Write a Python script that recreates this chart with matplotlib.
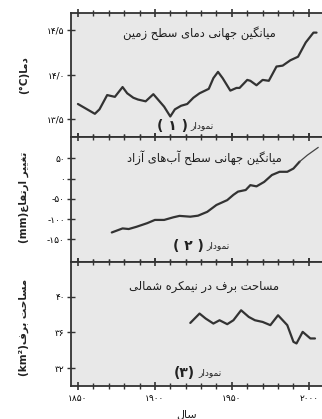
import matplotlib
matplotlib.use('Agg')
import matplotlib.pyplot as plt
from matplotlib.ticker import FixedLocator, MultipleLocator

# global mean surface temperature
temp_years = [1850, 1858, 1861, 1864, 1869, 1874, 1879, 1882, 1886, 1889, 1894, 1899,
              1901, 1906, 1910, 1913, 1917, 1921, 1925, 1929, 1935, 1938, 1941, 1944,
              1949, 1953, 1955, 1960, 1962, 1966, 1970, 1974, 1979, 1983, 1988, 1993,
              1998, 2003, 2005]
temp_vals = [13.67, 13.59, 13.56, 13.61, 13.77, 13.75, 13.86, 13.79, 13.74, 13.72, 13.70, 13.78,
             13.74, 13.64, 13.53, 13.61, 13.65, 13.67, 13.74, 13.79, 13.84, 13.96, 14.03, 13.96,
             13.82, 13.85, 13.85, 13.94, 13.93, 13.88, 13.94, 13.93, 14.09, 14.10, 14.16, 14.20,
             14.36, 14.47, 14.47]

# global mean sea level (tide gauges, then satellite)
sea_years = [1872, 1879, 1883, 1888, 1895, 1900, 1906, 1912, 1916, 1923, 1928, 1934,
             1940, 1947, 1951, 1954, 1959, 1962, 1966, 1971, 1976, 1981, 1986, 1990, 1994]
sea_vals = [-133, -123, -124.5, -119, -110, -102, -102, -95.5, -92, -94, -91.5, -82,
            -65, -53, -40, -32, -28, -16, -19, -8, 9, 17, 17, 25, 42]
sat_years = [1994, 1999, 2006]
sat_vals = [42, 58, 77]

# northern hemisphere snow cover
snow_years = [1923, 1929, 1933, 1938, 1942, 1947, 1951, 1956, 1961, 1965, 1970, 1975,
              1980, 1986, 1990, 1992, 1996, 2001, 2004]
snow_vals = [37.07, 38.12, 37.56, 37.0, 37.37, 36.93, 37.37, 38.49, 37.74, 37.37, 37.18, 36.82,
             37.93, 36.82, 34.95, 34.77, 36.07, 35.33, 35.33]

year_ticks = [1850, 1900, 1950, 2000]
temp_ticks = [13.5, 14.0, 14.5]
sea_ticks = [-150, -100, -50, 0, 50]
snow_ticks = [32, 36, 40]

temp_labels = ['13/5', '14/0', '14/5']
sea_labels = ['-150', '-100', '-50', '0', '50']
snow_labels = ['32', '36', '40']

titles = ['میانگین جهانی دمای سطح زمین',
          'میانگین جهانی سطح آب‌های آزاد',
          'مساحت برف در نیمکره شمالی']
ylabels = [('دما', '(°C)'), ('تغییر ارتفاع', '(mm)'), ('مساحت برف', '(km²)')]
panel_nums = ['( ۱ )', '( ۲ )', '(۳)']

# arabic letters -> (isolated, final, initial, medial)
FORMS = {
    'ا': ('\uFE8D', '\uFE8E', '\uFE8D', '\uFE8E'),
    'آ': ('\uFE81', '\uFE82', '\uFE81', '\uFE82'),
    'ب': ('\uFE8F', '\uFE90', '\uFE91', '\uFE92'),
    'ت': ('\uFE95', '\uFE96', '\uFE97', '\uFE98'),
    'ج': ('\uFE9D', '\uFE9E', '\uFE9F', '\uFEA0'),
    'ح': ('\uFEA1', '\uFEA2', '\uFEA3', '\uFEA4'),
    'د': ('\uFEA9', '\uFEAA', '\uFEA9', '\uFEAA'),
    'ر': ('\uFEAD', '\uFEAE', '\uFEAD', '\uFEAE'),
    'ز': ('\uFEAF', '\uFEB0', '\uFEAF', '\uFEB0'),
    'س': ('\uFEB1', '\uFEB2', '\uFEB3', '\uFEB4'),
    'ش': ('\uFEB5', '\uFEB6', '\uFEB7', '\uFEB8'),
    'ط': ('\uFEC1', '\uFEC2', '\uFEC3', '\uFEC4'),
    'ع': ('\uFEC9', '\uFECA', '\uFECB', '\uFECC'),
    'غ': ('\uFECD', '\uFECE', '\uFECF', '\uFED0'),
    'ف': ('\uFED1', '\uFED2', '\uFED3', '\uFED4'),
    'ل': ('\uFEDD', '\uFEDE', '\uFEDF', '\uFEE0'),
    'م': ('\uFEE1', '\uFEE2', '\uFEE3', '\uFEE4'),
    'ن': ('\uFEE5', '\uFEE6', '\uFEE7', '\uFEE8'),
    'ه': ('\uFEE9', '\uFEEA', '\uFEEB', '\uFEEC'),
    'و': ('\uFEED', '\uFEEE', '\uFEED', '\uFEEE'),
    'ی': ('\uFBFC', '\uFBFD', '\uFBFE', '\uFBFF'),
    'ک': ('\uFB8E', '\uFB8F', '\uFB90', '\uFB91'),
    'گ': ('\uFB92', '\uFB93', '\uFB94', '\uFB95'),
}
NON_JOIN = set('اآدذرزژو')


def fa(text):
    # shape persian letters and put them in visual order
    out = []
    for i, ch in enumerate(text):
        if ch not in FORMS:
            if ch != '\u200c':
                out.append(ch)
            continue
        prev = text[i - 1] if i > 0 else ''
        nxt = text[i + 1] if i + 1 < len(text) else ''
        jp = prev in FORMS and prev not in NON_JOIN
        jn = ch not in NON_JOIN and nxt in FORMS
        iso, fin, ini, med = FORMS[ch]
        if jp and jn:
            out.append(med)
        elif jp:
            out.append(fin)
        elif jn:
            out.append(ini)
        else:
            out.append(iso)
    return ''.join(reversed(out))


def fa_num(s):
    return s.translate(str.maketrans('0123456789', '۰۱۲۳۴۵۶۷۸۹'))


plt.rcParams['font.family'] = ['DejaVu Sans']

fig = plt.figure(figsize=(3.22, 4.19), dpi=100)
W, H = 322.0, 419.0
left = 71 / W
width = (335 - 71) / W
edges = [13, 137, 262, 386]

axes = []
for k in range(3):
    bottom = 1 - edges[k + 1] / H
    height = (edges[k + 1] - edges[k]) / H
    ax = fig.add_axes([left, bottom, width, height])
    ax.set_facecolor('#e8e8e8')
    for side in ['left', 'top', 'bottom']:
        ax.spines[side].set_linewidth(1.3)
        ax.spines[side].set_color('#333333')
    ax.spines['right'].set_visible(False)
    ax.set_xlim(1845.5, 2017)
    ax.xaxis.set_major_locator(FixedLocator(year_ticks))
    ax.xaxis.set_minor_locator(MultipleLocator(10))
    ax.tick_params(axis='x', which='major', direction='inout', top=True, length=6,
                   width=1.2, color='#333333')
    ax.tick_params(axis='x', which='minor', direction='inout', top=True, length=4,
                   width=1.0, color='#333333')
    ax.tick_params(axis='y', direction='inout', length=6, width=1.0, color='#333333',
                   labelsize=6.5, pad=1.5)
    axes.append(ax)

line_kw = dict(color='#333333', lw=1.6, solid_capstyle='round', solid_joinstyle='round')

axes[0].plot(temp_years, temp_vals, **line_kw)
axes[0].set_ylim(13.30, 14.69)
axes[0].set_yticks(temp_ticks)
axes[0].set_yticklabels([fa_num(s) for s in temp_labels])

axes[1].plot(sea_years, sea_vals, **line_kw)
axes[1].plot(sat_years, sat_vals, color='#444444', lw=0.9)
axes[1].set_ylim(-206, 103)
axes[1].set_yticks(sea_ticks)
axes[1].set_yticklabels([fa_num(s) for s in sea_labels])

axes[2].plot(snow_years, snow_vals, **line_kw)
axes[2].set_ylim(30.0, 43.9)
axes[2].set_yticks(snow_ticks)
axes[2].set_yticklabels([fa_num(s) for s in snow_labels])

for ax in axes[:2]:
    ax.tick_params(axis='x', labelbottom=False)
axes[2].set_xticklabels([fa_num(str(y)) for y in year_ticks], fontsize=6.5)
axes[2].tick_params(axis='x', pad=3)

# panel titles
title_pos = [(0.485, 0.84), (0.505, 0.834), (0.505, 0.80)]
for ax, t, (tx, ty) in zip(axes, titles, title_pos):
    ax.text(tx, ty, fa(t), transform=ax.transAxes, ha='center', va='center',
            fontsize=8.3, color='#1e1e1e')

# chart numbers
num_pos = [(0.444, 0.09), (0.502, 0.128), (0.471, 0.107)]
for ax, n, (nx, ny) in zip(axes, panel_nums, num_pos):
    ax.text(nx, ny, n, transform=ax.transAxes, ha='right', va='center',
            fontsize=10, fontweight='bold', color='#222222')
    ax.text(nx + 0.01, ny, fa('نمودار'), transform=ax.transAxes, ha='left', va='center',
            fontsize=6.5, color='#222222')

# axis titles
label_y = [75, 197, 327]
for (word, unit), ly in zip(ylabels, label_y):
    fig.text(24 / W, 1 - ly / H, unit + fa(word), rotation=90, ha='center', va='center',
             fontsize=7.5, fontweight='bold', color='#222222')

fig.text(187 / W, 1 - 414 / H, fa('سال'), ha='center', va='center', fontsize=8,
         color='#222222')

fig.savefig('out.png', dpi=100)
